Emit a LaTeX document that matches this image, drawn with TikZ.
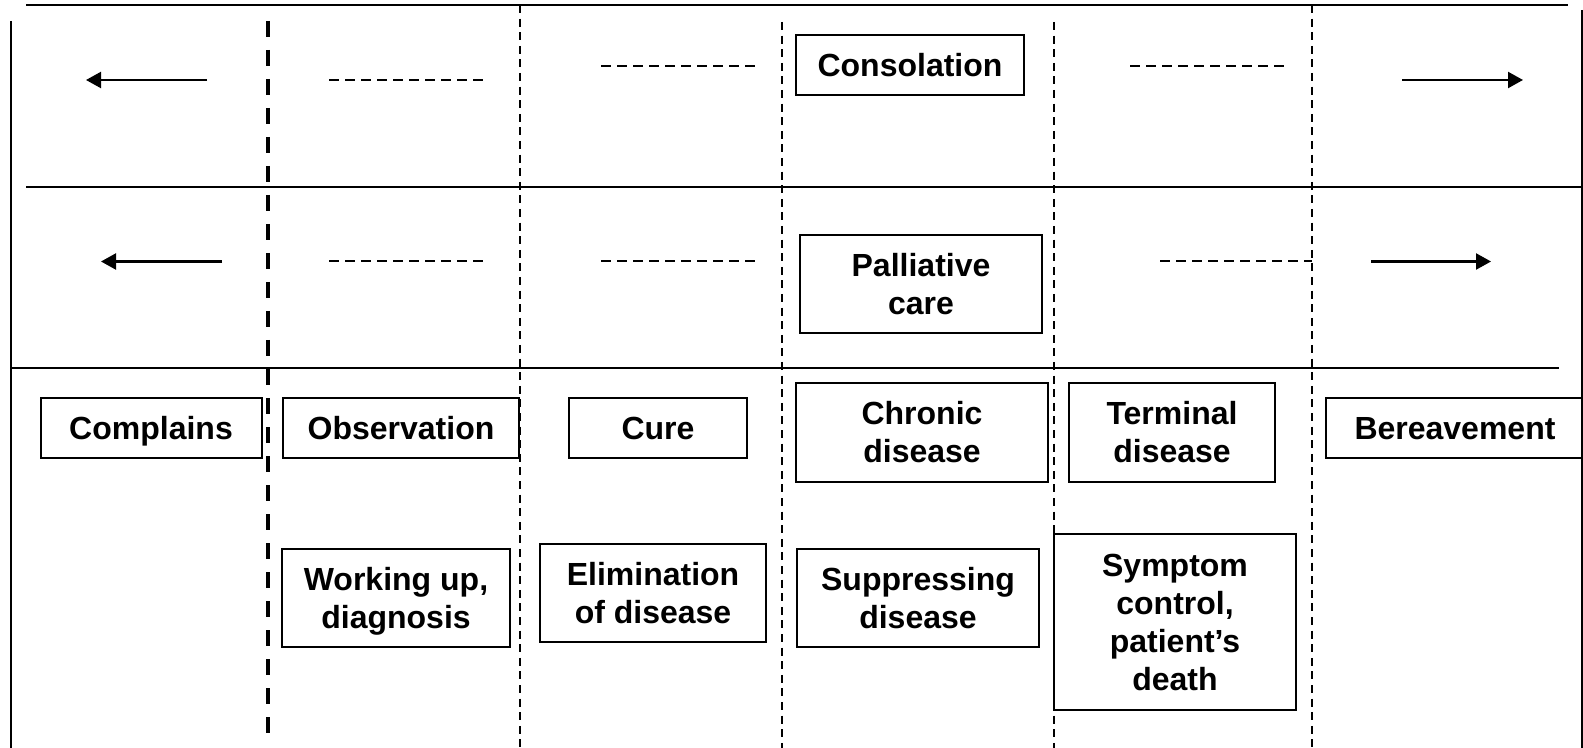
\documentclass[tikz,border=0pt]{standalone}
\usepackage{fontspec}
\setmainfont{Liberation Sans}
\usetikzlibrary{arrows.meta}
\begin{document}
\begin{tikzpicture}[x=0.5pt,y=-0.5pt,
  box/.style={draw, line width=1pt, inner sep=0pt, align=center,
    font=\fontsize{16}{18.8}\selectfont\bfseries},
  onebox/.style={box, text height=11.6pt, text depth=0pt},
  frame/.style={line width=1.1pt},
  thinframe/.style={line width=0.9pt},
  vdash/.style={line width=1pt, dash pattern=on 4pt off 2.8pt},
  vdashthick/.style={line width=2pt, dash pattern=on 8pt off 6.5pt},
  hdash/.style={line width=1pt, dash pattern=on 5pt off 3pt},
  arr/.style={line width=1.1pt, -{Triangle[length=7.5pt,width=8pt]}}
]
\useasboundingbox (0,0) rectangle (1583,748);

% frame lines
\draw[frame] (26,5) -- (1568,5);
\draw[frame] (26,187) -- (1582,187);
\draw[frame] (11,368) -- (1559,368);
\draw[thinframe] (11,21) -- (11,748);
\draw[thinframe] (1582,10) -- (1582,748);

% vertical dashed separators
\draw[vdashthick] (268,21) -- (268,737);
\draw[vdash] (520,5) -- (520,748);
\draw[vdash] (781.5,22) -- (781.5,748);
\draw[vdash] (1054,22) -- (1054,748);
\draw[vdash] (1312,5) -- (1312,748);

% boxes
\node[onebox, minimum width=113.8pt, minimum height=29.9pt] (cons) at (910,65) {Consolation};
\node[box, minimum width=121.2pt, minimum height=49pt] (pall) at (921,284) {Palliative\\care};
\node[onebox, minimum width=110.5pt, minimum height=30pt] (compl) at (151,428) {Complains};
\node[onebox, minimum width=118.2pt, minimum height=30pt] (obs) at (401,428) {Observation};
\node[onebox, minimum width=88.8pt, minimum height=30pt] (cure) at (658,428) {Cure};
\node[box, minimum width=125.7pt, minimum height=49.5pt] (chron) at (922,432) {Chronic\\disease};
\node[box, minimum width=103pt, minimum height=49.5pt] (term) at (1172,432) {Terminal\\disease};
\node[onebox, minimum width=129.4pt, minimum height=30pt] (ber) at (1455,428) {Bereavement};
\node[box, text depth=0pt, minimum width=113.7pt, minimum height=49pt] (work) at (396,598) {Working up,\\diagnosis};
\node[box, minimum width=113pt, minimum height=49pt] (elim) at (653,593) {Elimination\\of disease};
\node[box, minimum width=121.2pt, minimum height=49pt] (supp) at (918,598) {Suppressing\\disease};
\node[box, font=\fontsize{16}{19}\selectfont\bfseries, minimum width=121pt, minimum height=88pt] (symp) at (1175,622) {Symptom\\control,\\patient’s\\death};

% row 1 arrows and dashes
\coordinate (a1s) at (207,80);   \coordinate (a1e) at (86,80);
\coordinate (d1s) at (329,80);   \coordinate (d1e) at (483,80);
\coordinate (d2s) at (601,65.6); \coordinate (d2e) at (755,65.6);
\coordinate (d3s) at (1130,65.6);\coordinate (d3e) at (1284,65.6);
\coordinate (a2s) at (1402,80);  \coordinate (a2e) at (1523,80);
\draw[arr] (a1s) -- (a1e);
\draw[hdash] (d1s) -- (d1e);
\draw[hdash] (d2s) -- (d2e);
\draw[hdash] (d3s) -- (d3e);
\draw[arr] (a2s) -- (a2e);

% row 2 arrows and dashes
\coordinate (b1s) at (222,261.5);  \coordinate (b1e) at (101,261.5);
\coordinate (e1s) at (329,261.5);  \coordinate (e1e) at (483,261.5);
\coordinate (e2s) at (601,261.5);  \coordinate (e2e) at (755,261.5);
\coordinate (e3s) at (1160,261.5); \coordinate (e3e) at (1312,261.5);
\coordinate (b2s) at (1371,261.5); \coordinate (b2e) at (1491,261.5);
\draw[arr] (b1s) -- (b1e);
\draw[hdash] (e1s) -- (e1e);
\draw[hdash] (e2s) -- (e2e);
\draw[hdash] (e3s) -- (e3e);
\draw[arr] (b2s) -- (b2e);
\end{tikzpicture}
\end{document}
